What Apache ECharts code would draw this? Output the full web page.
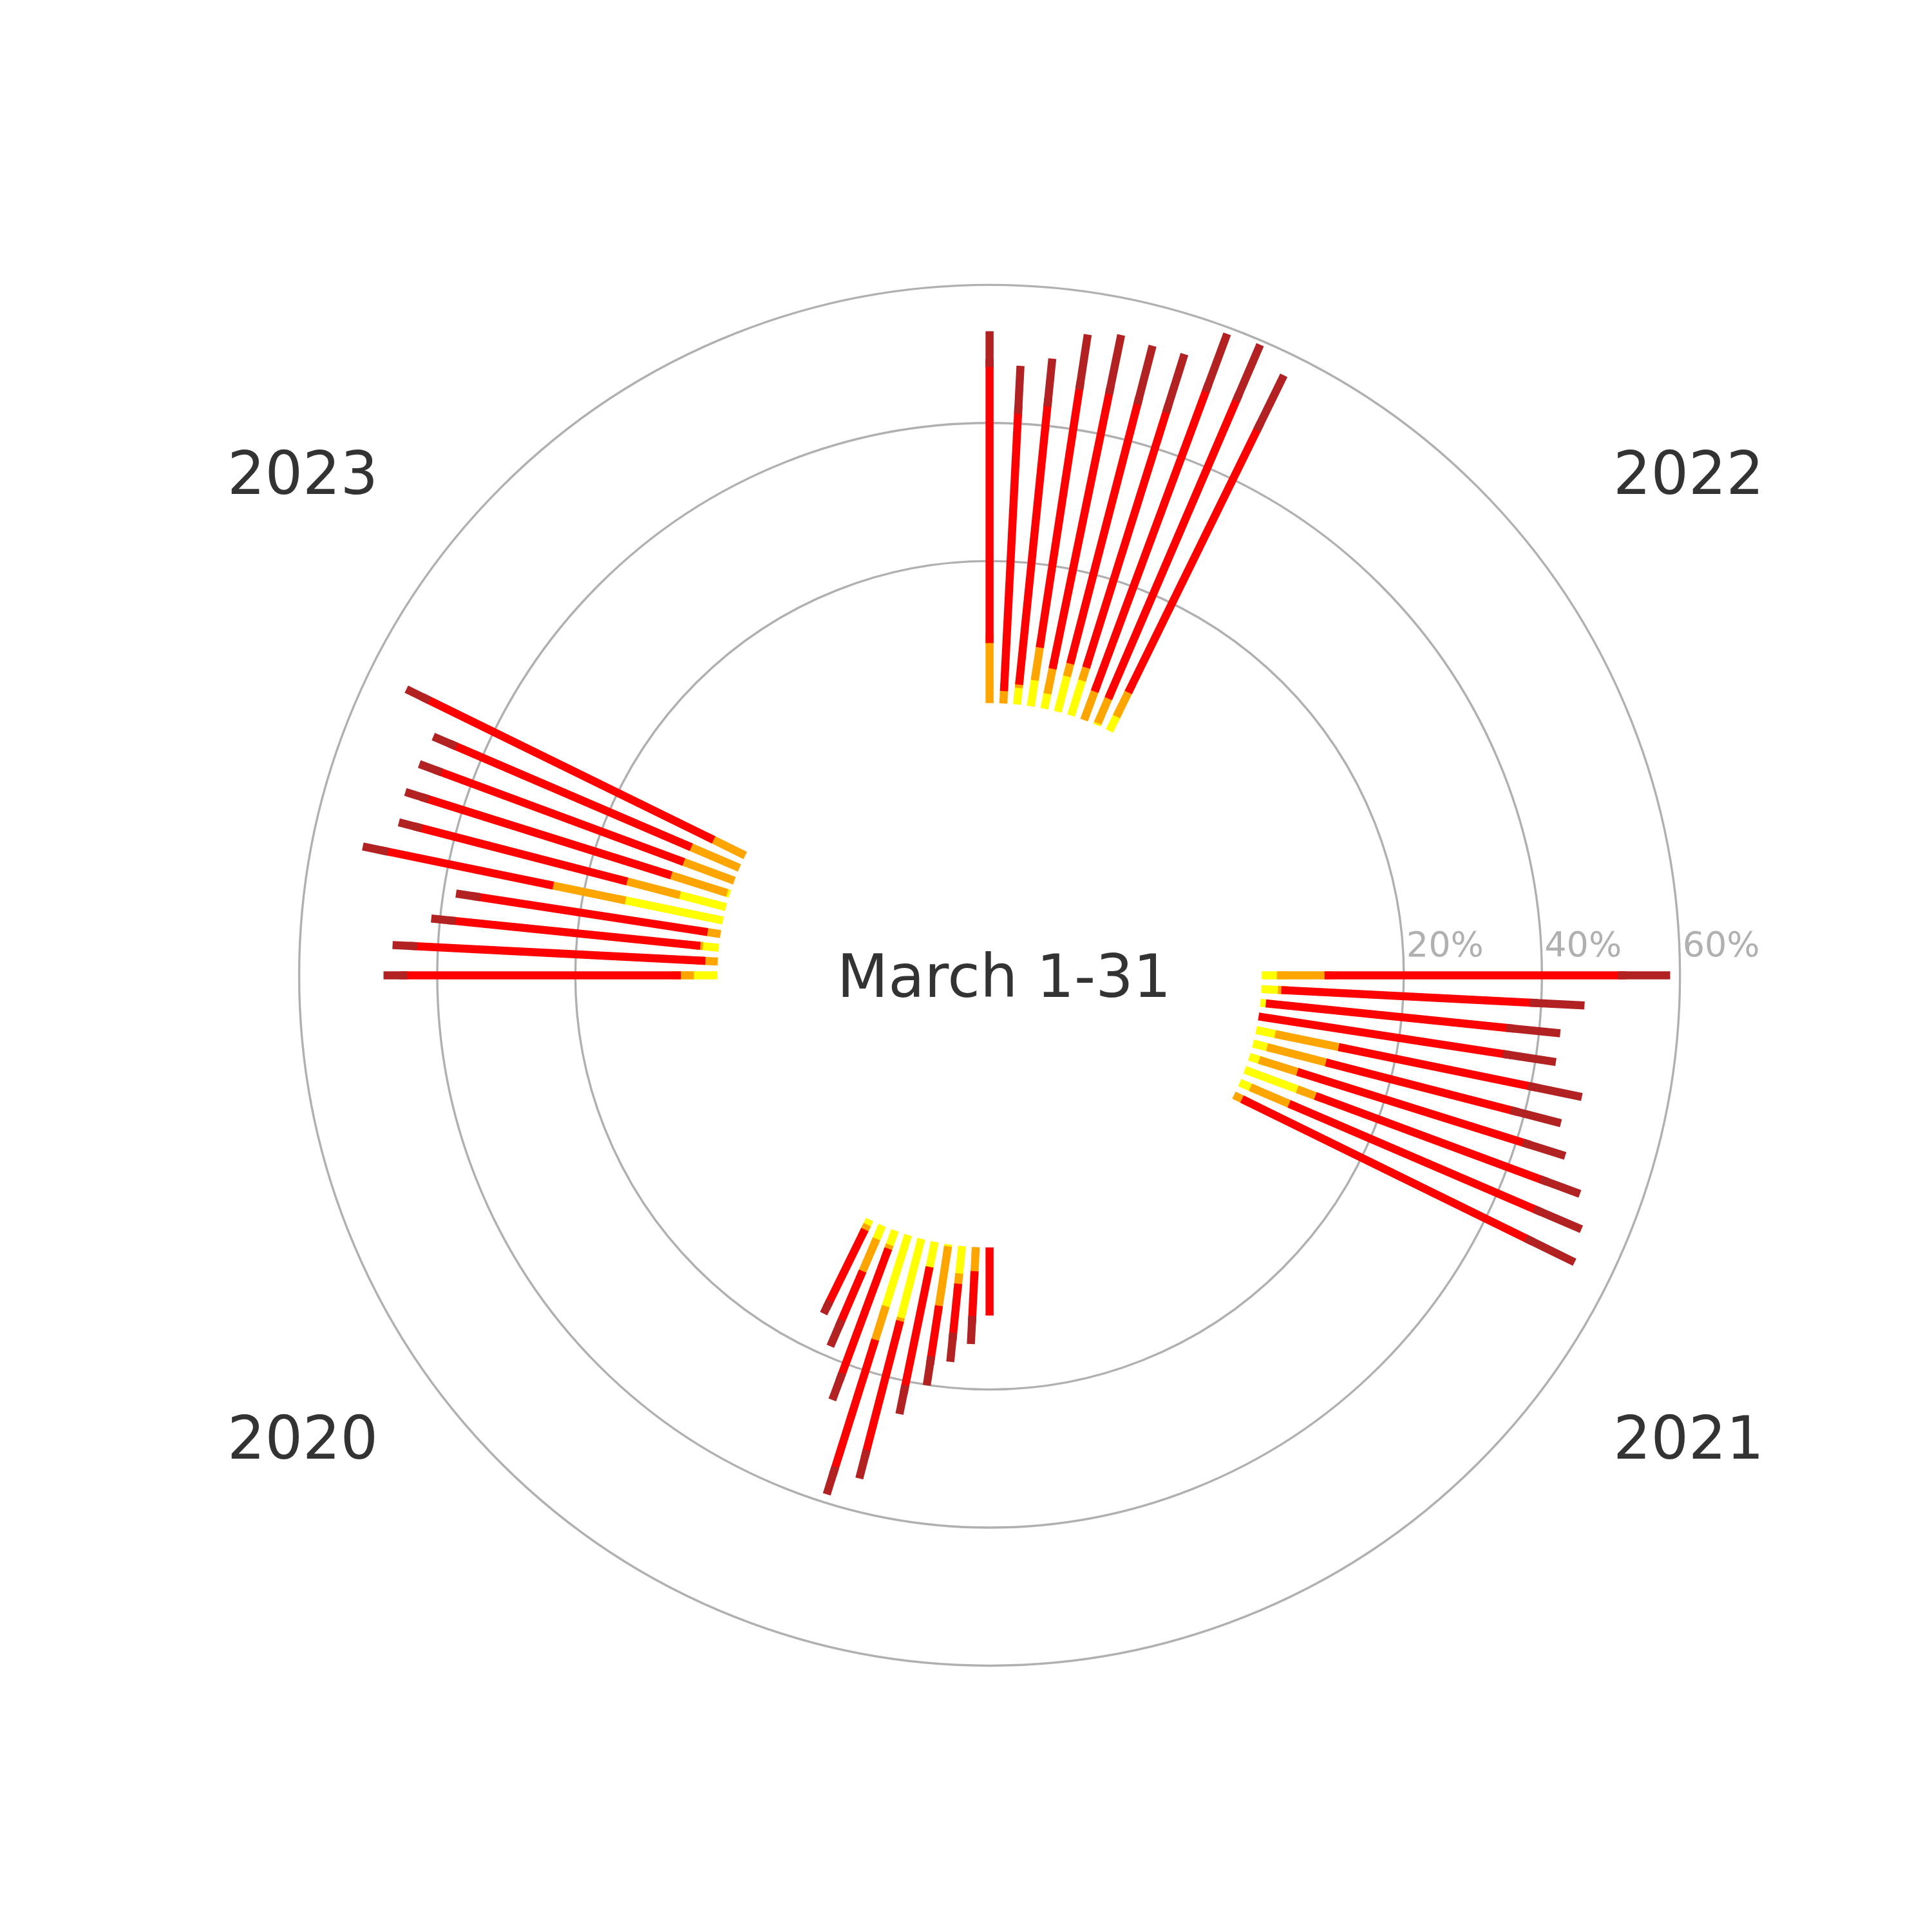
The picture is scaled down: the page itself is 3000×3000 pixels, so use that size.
<!DOCTYPE html>
<html>
<head>
<meta charset="utf-8">
<title>March 1-31</title>
<script src="https://cdn.jsdelivr.net/npm/echarts/dist/echarts.min.js"></script>
<style>
  html, body { margin: 0; padding: 0; background: #ffffff; }
  #chart { width: 3000px; height: 3000px; }
</style>
</head>
<body>
<div id="chart"></div>
<script>
// each year gets a quarter of the circle, one angular step per day of March
const years = ['2020', '2021', '2022', '2023'];
const days = [22, 23, 24, 25, 26, 27, 28, 29, 30, 31];
const daysInMonth = 31;
const radiusTicks = [0, 20, 40, 60];

// share (%) of each band, one row per year, one value per day above
const yellowShare = [
  [0.8, 2.1, 2.2, 10.8, 11.8, 3.7, 0.3, 4.0, 0, 0],
  [0, 1.7, 8.1, 1.5, 2.1, 2.8, 0, 0.8, 2.4, 2.2],
  [2.3, 0.3, 0, 5.3, 5.3, 2.2, 3.8, 2.4, 0, 0],
  [0, 0, 0, 0.4, 6.9, 14.4, 0, 2.3, 0, 3.4]
];
const orangeShare = [
  [0.8, 5.1, 0.6, 5.1, 0.5, 0, 8.7, 1.5, 3.5, 0],
  [1.3, 6.1, 2.8, 5.8, 8.8, 9.4, 0, 0, 0.5, 6.9],
  [3.9, 3.9, 4.4, 2.0, 1.9, 3.7, 4.8, 0.5, 1.8, 8.7],
  [5.1, 7.6, 7.8, 8.5, 7.9, 10.7, 1.9, 0.4, 1.8, 1.9]
];
const redShare = [
  [11.5, 7.7, 19.2, 19.3, 19.3, 17.5, 7.4, 7.1, 6.5, 8.7],
  [45.8, 38.6, 34.7, 34.2, 27.6, 28.0, 35.8, 35.0, 36.0, 42.5],
  [42.3, 46.9, 46.3, 38.7, 38.8, 40.6, 37.8, 40.5, 40.2, 40.0],
  [45.8, 37.0, 37.4, 36.8, 30.7, 24.4, 33.3, 35.6, 41.8, 39.6]
];
const firebrickShare = [
  [0.9, 3.0, 3.0, 3.0, 3.1, 3.1, 3.1, 3.1, 2.9, 0],
  [6.7, 6.3, 5.0, 5.3, 6.4, 6.8, 6.6, 6.7, 6.8, 6.4],
  [7.7, 7.7, 7.8, 7.7, 7.6, 7.6, 6.9, 5.8, 5.8, 4.0],
  [2.6, 2.5, 2.3, 2.4, 2.3, 2.6, 2.4, 2.4, 2.4, 2.3]
];

const bands = [
  { name: 'yellow', color: '#ffff00', values: yellowShare },
  { name: 'orange', color: '#ffa500', values: orangeShare },
  { name: 'red', color: '#ff0000', values: redShare },
  { name: 'firebrick', color: '#b22222', values: firebrickShare }
];

const center = ['51.22%', '50.48%'];
const radius = ['28.59%', '71.47%'];
const fontFamily = '"DejaVu Sans", sans-serif';
// year label anchors, clockwise from top-left
const yearLabelPos = { '2023': [470, 743], '2022': [2622, 743], '2021': [2622, 2241], '2020': [470, 2241] };

const chart = echarts.init(document.getElementById('chart'), null, { renderer: 'canvas' });

// one thick radial stroke per stacked segment
function renderSegment(params, api) {
  const angle = api.value(0);
  const from = api.value(1);
  const to = api.value(2);
  if (!(to > from)) return;
  const p0 = api.coord([from, angle]);
  const p1 = api.coord([to, angle]);
  return {
    type: 'line',
    shape: { x1: p0[0], y1: p0[1], x2: p1[0], y2: p1[1] },
    style: { stroke: api.visual('color'), lineWidth: 12.5, lineCap: 'square' }
  };
}

const series = bands.map(function (band, b) {
  const data = [];
  years.forEach(function (year, k) {
    days.forEach(function (day, j) {
      let base = 0;
      for (let p = 0; p < b; p++) base += bands[p].values[k][j];
      data.push([k * daysInMonth + day, base, base + band.values[k][j]]);
    });
  });
  return {
    type: 'custom',
    name: band.name,
    coordinateSystem: 'polar',
    polarIndex: 0,
    encode: { angle: 0, radius: [1, 2] },
    itemStyle: { color: band.color },
    renderItem: renderSegment,
    data: data
  };
});

const graphic = [{
  type: 'text',
  x: 1559,
  y: 1524,
  style: {
    text: 'March 1-31',
    fontSize: 92,
    fontFamily: fontFamily,
    fill: '#333333',
    align: 'center',
    verticalAlign: 'middle'
  }
}];
years.forEach(function (year) {
  graphic.push({
    type: 'text',
    x: yearLabelPos[year][0],
    y: yearLabelPos[year][1],
    style: {
      text: year,
      fontSize: 92,
      fontFamily: fontFamily,
      fill: '#333333',
      align: 'center',
      verticalAlign: 'middle'
    }
  });
});

const option = {
  backgroundColor: '#ffffff',
  animation: false,
  polar: [
    { center: center, radius: radius },
    { center: center, radius: radius }
  ],
  angleAxis: [
    {
      polarIndex: 0,
      type: 'value',
      min: 0,
      max: years.length * daysInMonth,
      startAngle: 180,
      clockwise: false,
      axisLine: { show: false },
      axisTick: { show: false },
      axisLabel: { show: false },
      splitLine: { show: false }
    },
    {
      polarIndex: 1,
      type: 'value',
      min: 0,
      max: 360,
      startAngle: 0,
      axisLine: { show: false },
      axisTick: { show: false },
      axisLabel: { show: false },
      splitLine: { show: false }
    }
  ],
  radiusAxis: [
    {
      polarIndex: 0,
      min: radiusTicks[0],
      max: radiusTicks[radiusTicks.length - 1],
      axisLine: { show: false },
      axisTick: { show: false },
      axisLabel: { show: false },
      splitLine: { show: false }
    },
    {
      polarIndex: 1,
      min: radiusTicks[0],
      max: radiusTicks[radiusTicks.length - 1],
      interval: radiusTicks[1] - radiusTicks[0],
      axisLine: { show: false },
      axisTick: { show: false },
      axisLabel: {
        formatter: function (v) { return v === 0 ? '' : v + '%'; },
        fontSize: 54,
        fontFamily: fontFamily,
        color: '#b0b0b0',
        align: 'left',
        verticalAlign: 'bottom',
        padding: [0, 0, 0, 4],
        margin: 16
      },
      splitLine: {
        show: true,
        lineStyle: {
          // no circle at the zero ring
          color: ['rgba(0,0,0,0)', '#b0b0b0', '#b0b0b0', '#b0b0b0'],
          width: 3.4
        }
      }
    }
  ],
  graphic: graphic,
  series: series
};

chart.setOption(option);
</script>
</body>
</html>
